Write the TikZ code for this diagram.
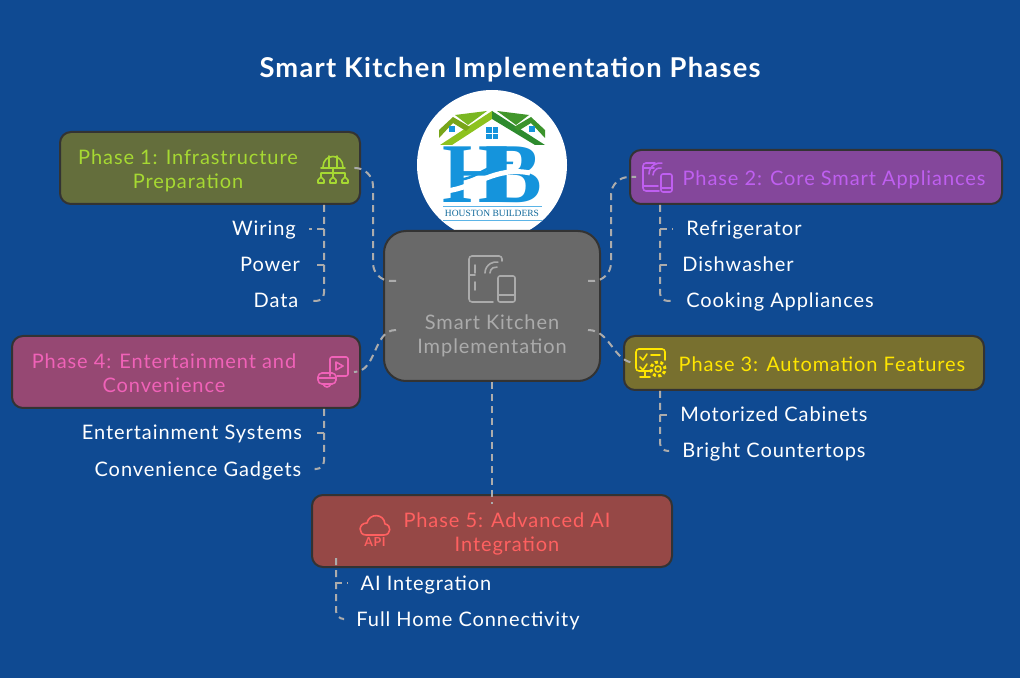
\documentclass[tikz,border=0pt]{standalone}
\usepackage{fontspec}
\setmainfont{Lato}[LetterSpace=4.6]
\newfontfamily\logofont{Liberation Serif}
\usetikzlibrary{calc}
\definecolor{canvas}{HTML}{0F4A92}
\definecolor{edge}{HTML}{333333}
\definecolor{wire}{HTML}{ACACAC}
\definecolor{hubfill}{HTML}{696969}
\definecolor{hubtext}{HTML}{ABABAB}
\definecolor{onefill}{HTML}{646E3C}
\definecolor{onetext}{HTML}{A6D932}
\definecolor{twofill}{HTML}{84479B}
\definecolor{twotext}{HTML}{BF5FF0}
\definecolor{threefill}{HTML}{78702F}
\definecolor{threetext}{HTML}{FFE600}
\definecolor{fourfill}{HTML}{964873}
\definecolor{fourtext}{HTML}{F062B8}
\definecolor{fivefill}{HTML}{964846}
\definecolor{fivetext}{HTML}{FF6060}
\definecolor{logoblue}{HTML}{1594DC}
\definecolor{limeroof}{HTML}{8DC21F}
\definecolor{darkroof}{HTML}{2E8B2E}
\tikzstyle{hubbox} = [rectangle, rounded corners=22pt, minimum width=216pt, minimum height=150pt, draw=edge, line width=2pt, fill=hubfill]
\tikzstyle{phasebox} = [rectangle, rounded corners=11pt, minimum height=54pt, draw=edge, line width=2pt]
\tikzstyle{phasetext} = [align=center, font=\fontsize{20}{24}\selectfont]
\tikzstyle{item} = [text=white, inner xsep=13pt, text height=17pt, text depth=3pt, font=\fontsize{20}{24}\selectfont]
\tikzstyle{link} = [draw=wire, line width=2pt, dash pattern=on 7pt off 5pt]
\tikzstyle{glyph} = [line width=1.6pt, line join=round, line cap=round]
\begin{document}
\begin{tikzpicture}[x=1pt, y=1pt, node distance=36pt]
            \useasboundingbox (0,0) rectangle (1020,678);
            \fill [canvas] (0,0) rectangle (1020,678);
            \node (title) [text=white, font=\fontsize{27.3}{32}\selectfont\bfseries] at (510,608) {Smart Kitchen Implementation Phases};

            \fill [white] (492,513) circle (75);
            \fill [limeroof] (440,533) -- (492,567) -- (492,559) -- (452,533) -- cycle;
            \fill [darkroof] (545,533) -- (492,567) -- (492,559) -- (535,533) -- cycle;
            \fill [limeroof!85!black] (439,548) -- (453,561) -- (470,551) -- (466,547) -- (453,555) -- (439,540) -- cycle;
            \fill [darkroof!85!limeroof] (545,548) -- (531,561) -- (514,551) -- (518,547) -- (531,555) -- (545,540) -- cycle;
            \fill [limeroof!80!darkroof] (455,563) -- (487,567) -- (468,553) -- cycle;
            \fill [darkroof!80!limeroof] (497,567) -- (529,563) -- (516,553) -- cycle;
            \fill [logoblue] (486,539) rectangle (498,551);
            \fill [logoblue] (449,546) rectangle (455,552);
            \fill [logoblue] (529,546) rectangle (535,552);
            \draw [white] (492,539) -- (492,551) (486,545) -- (498,545);
            \node (hb) [anchor=base, text=logoblue, inner sep=0pt, font=\fontsize{85}{85}\logofont\bfseries] at (492,475) {H\kern-.27em B};
            \draw [white, line width=5pt] (446,487) .. controls (475,490) and (495,512) .. (530,505);
            \draw [logoblue, line width=2.5pt] (458,498) .. controls (480,500) and (490,517) .. (513,515);
            \node (builders) [text=logoblue!70!black, inner sep=0pt, font=\fontsize{9.5}{10}\logofont] at (492,465) {HOUSTON BUILDERS};
            \draw [logoblue!70] (443,472) -- (542,472) (443,458) -- (542,458);

            \node (hub) [hubbox] at (492,372) {};
            \node (phase1) [phasebox, fill=onefill, minimum width=300pt, minimum height=72pt] at (210,510) {};
            \node (phase2) [phasebox, fill=twofill, minimum width=372pt] at (816,501) {};
            \node (phase3) [phasebox, fill=threefill, minimum width=360pt] at (804,315) {};
            \node (phase4) [phasebox, fill=fourfill, minimum width=348pt, minimum height=72pt] at (186,306) {};
            \node (phase5) [phasebox, fill=fivefill, minimum width=360pt, minimum height=72pt] at (492,147) {};

            \node (hub_label) [phasetext, text=hubtext] at (492,342) {Smart Kitchen\\Implementation};
            \node (phase1_label) [phasetext, text=onetext] at (188,507) {Phase 1: Infrastructure\\Preparation};
            \node (phase2_label) [phasetext, text=twotext] at (834,498) {Phase 2: Core Smart Appliances};
            \node (phase3_label) [phasetext, text=threetext] at (822,314) {Phase 3: Automation Features};
            \node (phase4_label) [phasetext, text=fourtext] at (164,305) {Phase 4: Entertainment and\\Convenience};
            \node (phase5_label) [phasetext, text=fivetext] at (507,144) {Phase 5: Advanced AI\\Integration};

            \node (wiring) [item] at (264,449) {Wiring};
            \node (power) [item, below of=wiring, xshift=6pt] {Power};
            \node (data) [item, below of=power, xshift=6pt] {Data};
            \node (fridge) [item] at (744,449) {Refrigerator};
            \node (dishwasher) [item, below of=fridge, xshift=-6pt] {Dishwasher};
            \node (cooking) [item, below of=dishwasher, xshift=42pt] {Cooking Appliances};
            \node (cabinets) [item] at (774,263) {Motorized Cabinets};
            \node (countertops) [item, below of=cabinets] {Bright Countertops};
            \node (entertainment) [item] at (192,245) {Entertainment Systems};
            \node (gadgets) [item, below of=entertainment, xshift=6pt] {Convenience Gadgets};
            \node (ai) [item] at (426,95) {AI Integration};
            \node (full_home) [item, below of=ai, xshift=42pt] {Full Home Connectivity};

            \coordinate (stem1) at ($(phase1.south)+(114,0)$);
            \coordinate (stem2) at ($(phase2.south)+(-156,0)$);
            \coordinate (stem3) at ($(phase3.south)+(-144,0)$);
            \coordinate (stem4) at ($(phase4.south)+(138,0)$);
            \coordinate (stem5) at ($(phase5.south)+(-156,10)$);
            \coordinate (port1) at ($(hub.west)+(13,25)$);
            \coordinate (port2) at ($(hub.east)+(-13,25)$);
            \coordinate (port3) at ($(hub.east)+(-13,-24)$);
            \coordinate (port4) at ($(hub.west)+(13,-24)$);
            \coordinate (end1) at ($(phase1.east)+(-7,0)$);
            \coordinate (end2) at ($(phase2.west)+(7,0)$);
            \coordinate (end3) at ($(phase3.west)+(13,0)$);
            \coordinate (end4) at ($(phase4.east)+(-7,0)$);
            \coordinate (end5) at ($(phase5.north)+(0,-10)$);
            \coordinate (bend1) at ($(end1)+(19,0)$);
            \coordinate (bend2) at ($(end2)+(-25,0)$);

            \draw [link, rounded corners=18pt] (port1) -| (bend1) -- (end1);
            \draw [link, rounded corners=18pt] (port2) -| (bend2) -- (end2);
            \draw [link] (port3) to[out=0, in=180] (end3);
            \draw [link] (port4) to[out=180, in=0] (end4);
            \draw [link] (hub.south) -- (end5);

            \draw [link] (stem1) |- (wiring);
            \draw [link] (stem1) |- (power);
            \draw [link, rounded corners=8pt] (stem1) |- (data);
            \draw [link] (stem2) |- (fridge);
            \draw [link] (stem2) |- (dishwasher);
            \draw [link, rounded corners=8pt] (stem2) |- (cooking);
            \draw [link] (stem3) |- (cabinets);
            \draw [link, rounded corners=8pt] (stem3) |- (countertops);
            \draw [link] (stem4) |- (entertainment);
            \draw [link, rounded corners=8pt] (stem4) |- (gadgets);
            \draw [link] (stem5) |- (ai);
            \draw [link, rounded corners=8pt] (stem5) |- (full_home);

            \begin{scope}[shift={(333,510)}, glyph, draw=onetext]
                \draw (-10,1) .. controls (-10,15) and (10,15) .. (10,1);
                \draw (-12,0) -- (12,0) (-4,1) -- (-4,12) (4,1) -- (4,12);
                \draw (0,0) -- (0,-10) (-12,-5) -- (12,-5) (-12,-5) -- (-12,-9) (12,-5) -- (12,-9);
                \draw (-15,-15) -- (-15,-12) -- (-12,-9) -- (-9,-12) -- (-9,-15) -- cycle;
                \draw (-3,-15) -- (-3,-12) -- (0,-9) -- (3,-12) -- (3,-15) -- cycle;
                \draw (9,-15) -- (9,-12) -- (12,-9) -- (15,-12) -- (15,-15) -- cycle;
            \end{scope}
            \begin{scope}[shift={(657,501)}, glyph, draw=twotext]
                \draw [rounded corners=3pt] (2,-14) -| (-14,14) -- (-2,14);
                \draw (-14,9) -- (-3,9) (-14,-9) -- (1,-9);
                \draw [rounded corners=2pt] (4,-15) rectangle (15,3);
                \draw (4,-11) -- (15,-11);
                \draw (-4,2) arc (180:80:7) (-8,3) arc (180:80:11);
            \end{scope}
            \begin{scope}[shift={(651,315)}, glyph, draw=threetext]
                \draw [rounded corners=3pt] (0,-8) -| (-15,14) -| (14,3);
                \draw (-11,6) -- (-8,3) -- (-4,9) (-11,-4) -- (-8,-7) -- (-4,-1) (0,8) -- (9,8);
                \draw (-6,-8) -- (-6,-14) (-11,-14) -- (-1,-14);
                \draw (7,-6) circle (3);
                \draw [dash pattern=on 3pt off 2.5pt, line width=3pt, line cap=butt] (7,-6) circle (7);
            \end{scope}
            \begin{scope}[shift={(333,306)}, glyph, draw=fourtext]
                \draw [rounded corners=2pt] (-3,-4) -- (-3,15) -- (15,15) -- (15,-4) -- (4,-4);
                \draw (3,10) -- (10,6) -- (3,2) -- cycle;
                \draw [rounded corners=4pt] (-15,-12) rectangle (3,-1);
                \draw (-15,-6) -- (3,-6) (-10,-12) .. controls (-8,-16) and (-4,-16) .. (-2,-12);
            \end{scope}
            \begin{scope}[shift={(375,152)}, glyph, draw=fivetext]
                \draw (-9,-9) -- (9,-9) .. controls (16,-9) and (17,1) .. (10,2) .. controls (9,13) and (-6,13) .. (-8,3) .. controls (-17,3) and (-17,-9) .. (-9,-9);
            \end{scope}
            \node (api) [text=fivetext, inner sep=0pt, font=\fontsize{12.5}{14}\selectfont\bfseries] at (375,136) {API};
            \begin{scope}[glyph, draw=hubtext]
                \draw [rounded corners=3pt] (493,376) -| (469,422) -| (502,417);
                \draw (469,403) -- (475,403) (475,413) -- (475,405) (475,396) -- (475,388);
                \draw [rounded corners=2pt] (498,376) rectangle (515,402);
                \draw (498,383) -- (515,383);
                \draw (490,405) arc (180:80:6) (485,405) arc (180:80:11);
            \end{scope}
\end{tikzpicture}
\end{document}
